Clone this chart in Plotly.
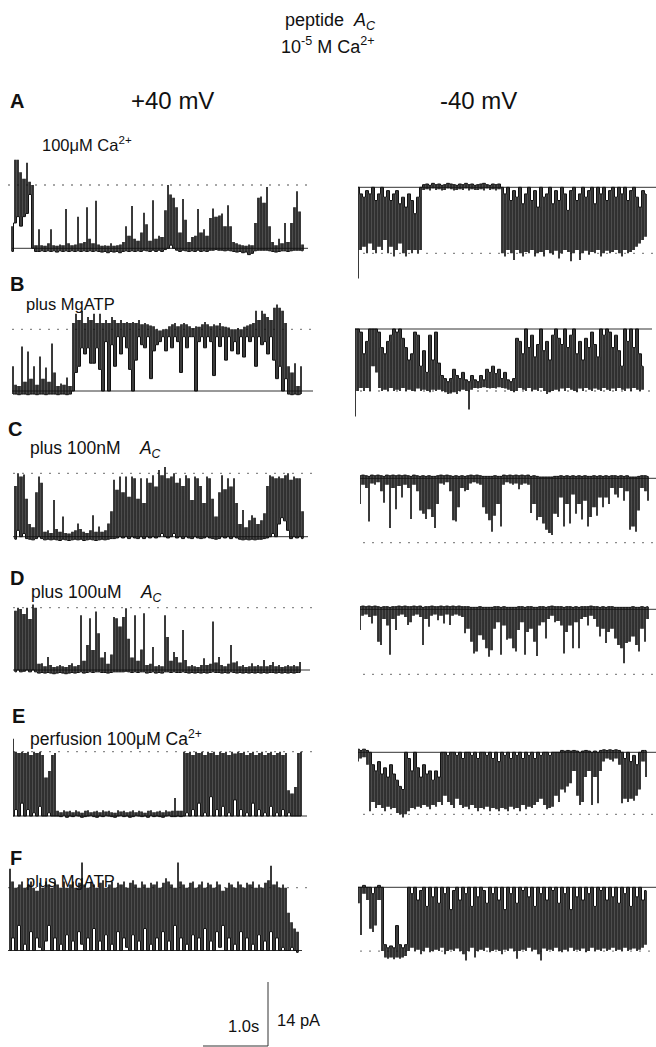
import plotly.graph_objects as go

W, H = 656, 1047
PX_PER_S = 65.0            # horizontal scale (pixels per second)
PX_PER_PA = 64.0 / 14.0    # vertical scale (pixels per pA)
DT = 3.0 / 65.0            # seconds between envelope columns

# ---------------- data: per-column current envelope, % of unitary open level ----------------
# lo = least-open value in the column, hi = most-open value in the column
A_L_LO = [-5,40,50,35,50,55,85,0,-5,-5, -4,-5,-4,-5,-4,-6,-4,-5,-4,-5, -4,-5,-4,-5,-4,-5,-4,-5,-4,-5,
          -6,-5,-7,-5,-6,-5,-7,-5,-4,-5, -4,-5,-4,-5,-3,-4,-5,-3,-5,-3, -5,-2,0,5,0,-3,-5,-3,-4,-5,
          -4,-5,-3,-5,-4,-5,-3,-3,-2,-3, -3,-4,-3,-4,-5,-6,-5,-7,-6,-10, -8,-4,-3,-3,-3,-3,-4,-5,-6,-5,
          -4,-4,-5,-4,-3,-3,-3,-4]
A_L_HI = [35,140,140,120,110,135,105,100,5,30, 5,4,8,30,5,4,6,5,62,8, 5,6,50,8,10,65,15,8,75,6,
          4,5,4,8,4,5,6,10,35,20, 67,15,12,25,56,38,12,76,15,20, 18,60,100,85,80,65,25,78,45,10,
          18,20,62,25,30,20,48,63,50,52, 55,35,68,35,10,8,6,5,4,6, 5,40,80,82,72,97,35,10,5,15,
          8,40,10,40,65,90,58,6]

A_R_LO = [0,10,15,5,10,0,20,10,0,15, 5,20,10,5,25,15,30,10,20,40, 15,0,
          -4,-5,-3,-6,-4,-5,-3,-4,-6,-5,-4,-3,-5,-4,-6,-4,-5,-3,-4,-5,-6,-4,-3,-5,-4,-5,
          0,10,0,20,5,15,0,25,10,0, 20,5,30,0,15,10,0,25,5,20, 0,10,35,5,0,20,10,0,15,5,
          0,25,0,10,0,20,5,0,15,0, 10,0,20,5,0,15,30,5,10]
A_R_HI = [138,95,90,100,85,95,100,90,95,80, 100,90,105,95,85,100,105,95,100,95, 100,95,
          4,3,5,2,4,3,5,4,2,3,5,4,3,4,2,5,3,4,4,3,5,2,4,3,5,3,
          100,105,95,100,110,95,100,105,98,100, 95,105,100,98,105,95,100,102,96,108,
          100,95,98,112,100,95,110,100,96,102, 98,100,95,105,100,96,100,98,95,100,
          105,95,100,98,95,90,85,80,75]

B_L_LO = [-5,-5,-6,-5,-5,-6,-5,-5,-6,-5, -5,-6,-5,-5,-5,-6,-5,-5,-6,-5, 0,30,40,70,60,70,45,45,70,35,
          0,80,0,75,40,88,60,88,70,35, 0,50,88,75,70,88,20,65,75,80, 88,65,88,70,88,80,30,88,70,88,
          88,0,80,88,70,88,80,25,88,72, 88,50,88,65,80,60,88,55,88,80, 88,40,88,75,80,60,88,50,20,40,
          0,20,-5,-6,-5,-6,-5]
B_L_HI = [40,10,8,72,15,64,20,40,10,56, 20,38,15,77,30,8,12,10,22,8, 110,125,115,130,110,120,115,125,110,125,
          110,115,110,120,115,110,115,110,112,110, 112,110,115,108,110,108,106,105,100,98,
          100,100,105,108,110,105,108,110,108,105, 102,105,104,108,112,108,105,108,106,110,
          105,104,103,100,100,102,100,104,106,108, 110,130,115,130,125,120,115,135,140,135,
          130,110,40,30,45,8,40]

B_R_LO = [0,0,5,40,20,0,0,0,5,30, 40,20,10,0,5,0,15,30,50,40, 5,10,60,35,70,10,50,5,55,75,
          80,85,80,65,75,80,70,82,85,75, 82,85,75,82,65,70,60,72,65,80, 70,82,85,80,15,20,40,0,30,10,
          45,25,0,35,20,50,10,0,15,25, 0,30,10,0,40,20,50,15,30,5, 25,45,0,10,0,5,30,10,35,60,
          0,20,0,30,0,40,60]
B_R_HI = [141,100,95,100,95,100,60,70,95,100, 98,100,95,100,98,100,95,100,98,100,
          100,96,100,98,100,102,98,100,98,100, 102,105,104,102,105,100,98,100,130,98,
          95,96,95,94,95,96,95,96,94,95, 96,98,100,102,100,95,98,100,95,100,
          98,100,95,100,105,102,100,98,100,96, 100,95,98,100,102,96,100,95,98,100,
          96,98,100,95,98,100,96,100,95,98, 100,96,100,95,98,100,98]

C_L_LO = [-4,10,0,5,-3,-4,-5,-3,0,-3, -5,-4,-5,-4,-5,-6,-4,-5,-6,-5, -4,-5,-4,-6,-5,-4,-5,-6,-5,-4,
          -5,-4,-3,-3,-2,0,-2,0,-3,0, -2,-3,0,-3,0,-2,0,-2,0,5, 0,-2,0,5,-2,0,-3,0,-2,-3,
          0,-2,-3,-2,0,-2,-3,-4,-3,0, -2,0,-3,0,-2,-4,-5,-4,-5,-4, -5,-4,-4,-3,-2,0,5,0,20,30,
          25,10,-3,0,-2,0,-3]
C_L_HI = [80,100,95,98,60,20,15,70,95,85, 8,10,6,58,12,8,32,6,5,8, 10,21,12,8,6,10,34,8,16,8,
          10,21,40,90,74,95,70,95,63,95, 92,60,92,53,92,85,97,79,105,97, 110,92,95,100,85,92,80,97,92,58,
          95,92,80,53,95,92,60,32,70,97, 75,92,79,92,53,20,42,15,26,34, 30,20,26,37,80,97,95,92,95,92,
          97,100,90,95,92,92,40]

C_R_LO = [-4,-5,-4,-3,-5,-4,-5,-4,-3,-5, -4,-5,-4,-5,-4,-5,-4,-3,-5,-4, -3,-4,-3,-4,-3,-3,-4,-5,-4,-5,
          -4,-3,-4,-3,-4,-3,-4,-5,-4,-5, -4,-3,-3,-3,-3,-4,-3,-3,-5,-4, -5,-4,-5,-4,-5,-4,-5,-3,-4,-3,
          -2,-2,-2,-2,-2,-3,-3,-4,-3,-4, -3,-4,-3,-4,-3,-4,-3,-3,-4,-3, -4,-3,-4,-3,-4,-4,-3,-4,-3,-4,
          -2,-2,-2,-3,-4,-4,-3]
C_R_HI = [40,10,15,67,8,10,6,20,38,10, 77,15,48,12,30,10,15,63,10,20, 50,55,63,48,60,77,40,8,10,6,
          20,65,67,45,15,20,18,8,6,8, 10,45,55,65,83,58,40,75,10,6, 8,10,8,17,10,8,10,54,40,65,
          60,70,80,85,88,55,60,30,75,40, 70,25,55,40,64,35,75,60,45,58, 30,45,30,40,15,25,30,15,35,20,
          80,75,83,50,15,20,35]

D_L_LO = [-3,0,-3,-2,0,-3,0,-3,-5,-4, -5,-4,-5,-6,-5,-4,-5,-6,-5,-4, -5,-4,-3,-5,-4,-3,-4,-3,-3,-4,
          -4,-5,-4,-3,-3,-3,-3,-2,-3,-4, -3,-4,-3,-3,-5,-4,-3,-5,-4,-5, -3,-3,-4,-3,-4,-4,-3,-4,-5,-4,
          -5,-4,-5,-4,-5,-4,-3,-4,-4,-5, -4,-5,-3,-4,-5,-4,-5,-4,-5,-4, -5,-4,-5,-4,-5,-4,-4,-5,-4,-5,
          -4,-5,-4,-5,-4,-4]
D_L_HI = [95,100,98,90,100,82,105,100,10,11, 6,21,8,5,6,8,6,5,8,11, 6,8,88,15,40,83,32,94,59,20,
          29,10,25,85,83,70,85,99,50,20, 88,15,33,91,8,10,37,6,8,6, 88,53,15,29,21,12,64,16,6,8,
          6,5,8,19,8,10,78,12,21,8, 6,10,40,12,14,6,8,5,6,11, 6,8,6,16,6,8,13,6,8,5,
          6,8,6,8,6,13]

D_R_LO = [-4,-5,-4,-5,-4,-5,-4,-3,-4,-4, -3,-4,-4,-5,-4,-5,-4,-4,-5,-4, -5,-3,-4,-4,-5,-4,-4,-5,-4,-5,
          -4,-5,-4,-5,-4,-4,-4,-3,-3,-3, -4,-3,-3,-3,-3,-4,-4,-3,-4,-3, -3,-3,-3,-4,-4,-3,-4,-4,-3,-3,
          -4,-4,-3,-4,-5,-4,-4,-4,-3,-4, -4,-3,-4,-3,-4,-4,-4,-5,-4,-4, -3,-4,-3,-4,-4,-3,-3,-3,-3,-3,
          -3,-4,-3,-3,-4,-3,-4]
D_R_HI = [32,10,8,12,22,10,50,55,15,25, 70,15,32,10,8,12,24,20,10,8, 12,55,15,27,10,8,17,10,22,8,
          24,10,8,10,12,37,30,50,68,65, 40,47,60,73,63,30,20,70,25,47, 45,60,65,32,20,70,35,30,50,72,
          25,20,45,15,10,20,18,25,68,35, 25,60,20,60,15,12,25,10,15,27, 42,30,52,35,30,45,55,60,83,52,
          50,42,55,65,30,50,15]

E_L_LO = [0,10,0,20,0,10,0,5,0,15, 0,0,5,0,0,
          0,-1,1,-2,0,-1,1,0,-2,-1,0,1,-1,-2,0,-1,1,0,-1,-2,0,1,-1,0,-2,-1,1,0,-1,0,-2,1,-1,0,-1,-2,0,1,-1,
          -1,0,-1, 0,5,0,10,0,20,0,5,0,30, 0,10,0,15,0,5,0,25,0,10, 0,5,0,20,0,10,0,5,0,15,
          0,5,0,10,0,5,0,0,0,0]
E_L_HI = [120,100,98,100,98,100,95,100,98,100, 95,60,70,95,98,
          8,6,9,7,8,6,9,7,5,8,9,6,7,8,6,9,7,8,6,5,9,7,8,6,7,9,6,8,7,5,8,9,6,7,8,6,9,7,8,
          28,8,8, 100,98,100,95,100,98,100,95,100,98, 100,95,100,98,100,95,100,97,100,98,
          100,95,98,100,95,98,100,95,98,100, 95,98,100,95,98,40,35,45,98,100]

E_R_LO = [-5,-3,-5,-3,0,20,30,15,35,25, 40,20,35,45,55,60,0,10,30,0, 25,40,20,35,30,45,30,40,0,0,
          5,0,0,5,0,10,0,0,5,0, 10,0,0,5,0,10,0,15,0,5, 0,10,0,5,0,10,0,5,0,10,
          0,5,0,0,5,0,0,0,-3,-2, -3,-2,-3,-2,0,-2,-3,-2,0,-2, 0,-3,-4,-3,-4,-3,-4,-3,0,10,
          0,15,5,20,0,-3,-3]
E_R_HI = [15,10,8,20,95,80,90,85,90,95, 88,92,90,98,100,105,100,95,90,92, 88,90,85,88,92,85,88,80,85,70,
          80,85,90,75,85,90,88,92,85,90, 95,90,92,88,95,90,92,95,90,92, 95,88,92,90,95,85,92,88,90,85,
          80,75,85,92,90,88,70,80,60,65, 55,50,30,70,85,80,40,30,85,40, 82,30,15,10,12,15,10,20,82,75,
          80,75,78,70,60,15,40]

F_L_LO = [0,20,0,40,0,10,0,30,0,20, 5,0,15,40,0,20,0,10,0,25, 0,15,0,30,10,0,20,0,35,0,
          15,0,25,0,10,0,30,0,20,5, 0,25,0,15,0,35,0,10,0,20, 0,30,0,15,0,40,0,20,0,10,
          0,25,0,20,0,35,0,15,0,30, 5,40,0,20,0,10,0,30,0,20, 0,10,0,25,0,15,0,30,0,20,
          0,5,0,0,5,0,-3]
F_L_HI = [130,110,100,105,110,100,105,110,100,95, 108,100,110,105,100,112,105,100,110,100,
          105,110,100,108,140,105,100,110,105,100, 108,112,100,105,110,100,108,105,110,100,
          108,112,105,100,110,105,100,108,105,110, 100,108,115,110,105,100,140,110,105,100,
          108,110,100,105,110,100,108,105,100,110, 105,95,100,108,105,100,110,105,100,108,
          105,110,100,105,100,108,112,135,105,110, 100,105,100,60,45,35,30]

F_R_LO = [0,0,-3,0,0,10,0,-3,0,90, 95,92,95,60,90,95,90,
          0,10,0,20,5,0,30,0,15,0, 25,0,10,0,35,5,0,20,0,10, 0,30,0,15,0,5,25,0,10,0,
          20,0,35,0,10,0,25,0,5,0, 15,0,30,0,10,0,20,0,5,0, 25,0,10,0,35,0,15,0,20,0,
          10,0,30,0,5,0,20,0,15,0, 25,0,10,0,30,0,15,0,20,5]
F_R_HI = [25,75,10,20,65,70,60,20,100,110, 112,110,113,110,112,110,108,
          100,95,100,98,105,100,95,102,100,98, 100,95,105,100,98,100,96,100,105,115,
          100,95,110,100,98,100,95,102,100,98, 100,105,98,100,96,100,112,100,98,100,
          95,100,98,105,115,96,100,98,100,95, 100,102,98,100,95,100,98,100,96,102,
          100,95,100,98,100,96,100,98,95,100, 98,100,95,100,98,96,100,98,95,90]

# unitary open-channel current of each record (pA)
OPEN_PA = [13.85, 14.44, 13.50, 13.56, 13.87, 14.09, 13.63, 14.22, 14.07, 13.56, 13.74, 13.94]

# calibration bar
SCALE_T = 1.0     # s
SCALE_PA = 14.0   # pA

RECORDS = [
    (A_L_LO, A_L_HI), (A_R_LO, A_R_HI), (B_L_LO, B_L_HI), (B_R_LO, B_R_HI),
    (C_L_LO, C_L_HI), (C_R_LO, C_R_HI), (D_L_LO, D_L_HI), (D_R_LO, D_R_HI),
    (E_L_LO, E_L_HI), (E_R_LO, E_R_HI), (F_L_LO, F_L_HI), (F_R_LO, F_R_HI),
]

# ---------------- layout geometry (pixels) ----------------
# side, trace start x, closed-level y, solid line x-extent, dotted line x-extent
GEOM = [
    ("L", 12, 248.3, (12, 308), (8, 313)),
    ("R", 358, 187.3, (358, 656), (363, 656)),
    ("L", 13, 391.0, (12, 313), (12, 312)),
    ("R", 355, 329.0, (355, 652), (360, 656)),
    ("L", 15, 536.7, (13, 308), (13, 312)),
    ("R", 360, 478.3, (360, 656), (363, 656)),
    ("L", 15, 670.0, (13, 310), (13, 312)),
    ("R", 360, 609.3, (360, 656), (363, 656)),
    ("L", 13, 816.0, (13, 307), (13, 312)),
    ("R", 358, 752.3, (358, 656), (363, 656)),
    ("L", 10, 950.5, (8, 302), (8, 308)),
    ("R", 358, 887.3, (358, 656), (360, 656)),
]

fig = go.Figure()
axes = {}
shapes = []
TRACE_COLOR = "#121212"
GAP_COLOR = "rgba(18,18,18,0.75)"
COL_FRAC = 0.55   # fraction of a column interval covered by its min-max stroke

def axnames(idx):
    return ("x" if idx == 1 else f"x{idx}", "y" if idx == 1 else f"y{idx}")

def rect(xs, ys, xl, xr, y0, y1):
    xs += [xl, xr, xr, xl, xl, None]
    ys += [y0, y0, y1, y1, y0, None]

for k, ((lo, hi), geo, amp) in enumerate(zip(RECORDS, GEOM, OPEN_PA)):
    idx = k + 1
    side, x0, yc, sol, dot = geo
    sign = 1.0 if side == "L" else -1.0
    xa = min(sol[0], dot[0])
    xb = max(sol[1], dot[1])
    if side == "L":
        ya, yb = yc - 100, yc + 20
    else:
        ya, yb = yc - 20, yc + 100
    xn, yn = axnames(idx)
    n = min(len(lo), len(hi))
    t = [i * DT for i in range(n)]
    conv = lambda v: sign * v / 100.0 * amp
    hw = 0.5 * COL_FRAC * DT
    # fill between neighbouring columns where both strokes overlap (dense flicker)
    gx, gy = [], []
    for i in range(n - 1):
        a = max(lo[i], lo[i + 1])
        b = min(hi[i], hi[i + 1])
        if b > a:
            rect(gx, gy, t[i] + hw * 0.8, t[i + 1] - hw * 0.8, conv(a), conv(b))
    fig.add_trace(go.Scatter(x=gx, y=gy, mode="lines", fill="toself", fillcolor=GAP_COLOR,
                             line=dict(width=0, color=GAP_COLOR), connectgaps=False,
                             xaxis=xn, yaxis=yn, hoverinfo="skip", showlegend=False))
    # min-max stroke of every column
    px, py = [], []
    for i in range(n):
        rect(px, py, t[i] - hw, t[i] + hw, conv(lo[i]), conv(hi[i]))
    fig.add_trace(go.Scatter(x=px, y=py, mode="lines", fill="toself", fillcolor=TRACE_COLOR,
                             line=dict(width=0, color=TRACE_COLOR), connectgaps=False,
                             xaxis=xn, yaxis=yn, hoverinfo="skip", showlegend=False))
    # continuous baseline through the least-open points
    fig.add_trace(go.Scatter(x=t, y=[conv(v) for v in lo[:n]], mode="lines",
                             line=dict(color=TRACE_COLOR, width=1.0, shape="hvh"),
                             xaxis=xn, yaxis=yn, hoverinfo="skip", showlegend=False))
    xkey = "xaxis" if idx == 1 else f"xaxis{idx}"
    ykey = "yaxis" if idx == 1 else f"yaxis{idx}"
    axes[xkey] = dict(domain=[xa / W, xb / W],
                      range=[(xa - x0) / PX_PER_S, (xb - x0) / PX_PER_S],
                      visible=False, anchor=yn, fixedrange=True)
    axes[ykey] = dict(domain=[1 - yb / H, 1 - ya / H],
                      range=[-(yb - yc) / PX_PER_PA, (yc - ya) / PX_PER_PA],
                      visible=False, anchor=xn, fixedrange=True)
    span = float(xb - xa)
    shapes.append(dict(type="line", xref=f"{xn} domain", yref=yn, layer="below",
                       x0=(sol[0] - xa) / span, x1=(sol[1] - xa) / span, y0=0, y1=0,
                       line=dict(color="#333333", width=1)))
    shapes.append(dict(type="line", xref=f"{xn} domain", yref=yn, layer="below",
                       x0=(dot[0] - xa) / span, x1=(dot[1] - xa) / span,
                       y0=sign * amp, y1=sign * amp,
                       line=dict(color="#8a8a8a", width=1.3, dash="2px,7px")))

# calibration bar axis
ox, oy = 268, 1046
xa, xb, ya, yb = 190, 272, 975, 1047
fig.add_trace(go.Scatter(x=[-SCALE_T, 0, 0], y=[0, 0, SCALE_PA], mode="lines",
                         line=dict(color="#333333", width=1),
                         xaxis="x13", yaxis="y13", hoverinfo="skip", showlegend=False))
axes["xaxis13"] = dict(domain=[xa / W, xb / W], range=[(xa - ox) / PX_PER_S, (xb - ox) / PX_PER_S],
                       visible=False, anchor="y13", fixedrange=True)
axes["yaxis13"] = dict(domain=[1 - yb / H, 1 - ya / H], range=[-(yb - oy) / PX_PER_PA, (oy - ya) / PX_PER_PA],
                       visible=False, anchor="x13", fixedrange=True)

FONT = "Liberation Sans, Arial, Helvetica, sans-serif"
AC = "<i>A</i><sub><i>C</i></sub>"
SP = "&nbsp;"
TEXTS = [
    # text, x px, y px, size, anchor, bold
    ("peptide" + SP * 2 + AC, 330, 22, 18, "center", False),
    ("10<sup>-5</sup> M Ca<sup>2+</sup>", 328, 46, 18, "center", False),
    ("A", 8, 101, 20, "left", True),
    ("+40 mV", 172, 101, 24, "center", False),
    ("-40 mV", 478, 101, 24, "center", False),
    ("100μM Ca<sup>2+</sup>", 40, 144, 16.5, "left", False),
    ("B", 8, 284, 20, "left", True),
    ("plus MgATP", 24, 304, 16.5, "left", False),
    ("C", 6, 429, 20, "left", True),
    ("plus 100nM" + SP * 4 + AC, 28, 449, 17.5, "left", False),
    ("D", 8, 578, 20, "left", True),
    ("plus 100uM" + SP * 4 + AC, 29, 593, 17.5, "left", False),
    ("E", 10, 716, 20, "left", True),
    ("perfusion 100μM Ca<sup>2+</sup>", 28, 738, 17.5, "left", False),
    ("F", 8, 858, 20, "left", True),
    ("plus MgATP", 24, 881, 16.5, "left", False),
    ("1.0s", 243, 1026, 16.5, "center", False),
    ("14 pA", 275, 1020, 16.5, "left", False),
]
annotations = []
for txt, px_, py_, size, anc, bold in TEXTS:
    annotations.append(dict(text=("<b>%s</b>" % txt) if bold else txt, x=px_ / W, y=1 - py_ / H,
                            xref="paper", yref="paper", xanchor=anc, yanchor="middle",
                            showarrow=False, font=dict(family=FONT, size=size, color="#111111")))

fig.update_layout(width=W, height=H, autosize=False, margin=dict(l=0, r=0, t=0, b=0),
                  paper_bgcolor="white", plot_bgcolor="rgba(0,0,0,0)",
                  shapes=shapes, annotations=annotations, **axes)
fig.write_html("out.html", include_plotlyjs=True, config={"displayModeBar": False, "staticPlot": True})
